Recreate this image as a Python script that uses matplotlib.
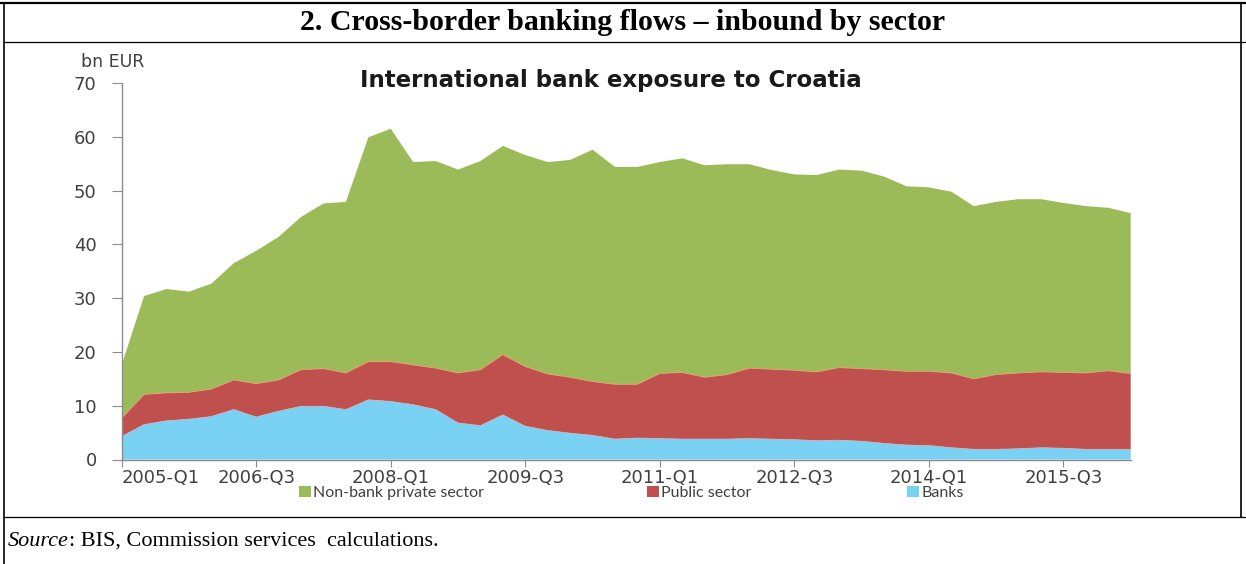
import matplotlib
matplotlib.use('Agg')
import matplotlib.pyplot as plt
import numpy as np
from matplotlib.lines import Line2D

# quarters 2005-Q1 .. 2016-Q2
quarters = [f"{y}-Q{q}" for y in range(2005, 2017) for q in range(1, 5)][:46]

# bn EUR
banks = [4.3, 6.5, 7.2, 7.5, 8.0, 9.3, 7.9, 9.0, 9.9, 9.9, 9.3, 11.1, 10.8, 10.2, 9.3, 6.8,
         6.3, 8.3, 6.2, 5.4, 4.9, 4.5, 3.8, 4.0, 3.9, 3.8, 3.8, 3.8, 3.9, 3.8, 3.7, 3.5,
         3.6, 3.4, 3.0, 2.7, 2.6, 2.2, 1.9, 1.9, 2.0, 2.2, 2.1, 1.9, 1.9, 1.9]
public = [3.4, 5.6, 5.2, 5.0, 5.1, 5.5, 6.2, 5.8, 6.8, 7.0, 6.8, 7.1, 7.4, 7.4, 7.7, 9.3,
          10.4, 11.2, 11.1, 10.5, 10.4, 10.0, 10.2, 10.0, 12.1, 12.4, 11.5, 12.0, 13.1, 13.0, 12.9, 12.8,
          13.5, 13.5, 13.7, 13.7, 13.8, 13.9, 13.1, 13.9, 14.1, 14.1, 14.1, 14.2, 14.6, 14.1]
nonbank = [9.9, 18.3, 19.3, 18.7, 19.6, 21.7, 24.7, 26.6, 28.4, 30.7, 31.8, 41.7, 43.3, 37.7, 38.5, 37.8,
           38.8, 38.8, 39.3, 39.4, 40.4, 43.1, 40.4, 40.4, 39.3, 39.8, 39.4, 39.1, 37.9, 37.0, 36.4, 36.6,
           36.8, 36.8, 35.9, 34.4, 34.2, 33.7, 32.1, 32.1, 32.3, 32.1, 31.5, 31.0, 30.3, 29.8]

GREEN = '#9BBB59'
RED = '#C0504D'
BLUE = '#79D1F3'
TXT = '#404040'
AX = '#8C8C8C'
CHART_FONT = 'DejaVu Sans'

W, H = 1246, 564
fig = plt.figure(figsize=(W / 100, H / 100), dpi=100)

def fx(px):
    return px / W

def fy(py):
    return 1 - py / H

# frame of the document box
for (x0, y0, x1, y1, lw) in [(0, 3, W, 3, 1.6), (4, 3, 4, H, 1.2), (1241, 3, 1241, 517, 1.2),
                             (4, 42, W, 42, 0.9), (4, 517, W, 517, 0.9)]:
    fig.add_artist(Line2D([fx(x0), fx(x1)], [fy(y0), fy(y1)], color='black', lw=lw))

fig.text(fx(623), fy(23), "2. Cross-border banking flows \u2013 inbound by sector",
         ha='center', va='center', fontsize=21.5, fontweight='bold', family='Liberation Serif')

ax = fig.add_axes([fx(121.7), fy(459.5), fx(1130.7) - fx(121.7), fy(83) - fy(459.5)])
x = np.arange(len(quarters))
polys = ax.stackplot(x, banks, public, nonbank, colors=[BLUE, RED, GREEN],
                     labels=['Banks', 'Public sector', 'Non-bank private sector'], lw=0)
cum_red = np.array(banks) + np.array(public)
ax.plot(x, cum_red, color='#E0A070', lw=0.7)
ax.plot(x, banks, color='#C9B7C4', lw=0.5)

ax.set_xlim(0, len(quarters) - 1)
ax.set_ylim(0, 70)
ax.set_yticks(range(0, 71, 10))
ticks = list(range(0, len(quarters), 6))
ax.set_xticks(ticks)
ax.set_xticklabels([quarters[i] for i in ticks])
ax.get_xticklabels()[0].set_horizontalalignment('left')
for s in ['top', 'right']:
    ax.spines[s].set_visible(False)
for s in ['left', 'bottom']:
    ax.spines[s].set_color(AX)
    ax.spines[s].set_linewidth(1.0)
ax.tick_params(axis='y', length=7, color=AX, pad=11, labelsize=13, labelcolor=TXT)
ax.tick_params(axis='x', length=5, color=AX, pad=1.5, labelsize=13, labelcolor=TXT)
for lab in ax.get_xticklabels() + ax.get_yticklabels():
    lab.set_family(CHART_FONT)

fig.text(fx(81), fy(62), "bn EUR", ha='left', va='center', fontsize=12.5, color=TXT, family=CHART_FONT)
fig.text(fx(611), fy(80), "International bank exposure to Croatia", ha='center', va='center',
         fontsize=16.5, fontweight='bold', family='DejaVu Sans', color='#1a1a1a')

# legend: one entry per sector, placed as in the reference
handles = {p.get_label(): p for p in polys}
for name, xpos in [('Non-bank private sector', 299), ('Public sector', 647), ('Banks', 907)]:
    lg = fig.legend([handles[name]], [name], loc='center left', bbox_to_anchor=(fx(xpos), fy(493)),
                    frameon=False, handlelength=0.75, handleheight=0.75, handletextpad=0.15,
                    borderpad=0, borderaxespad=0,
                    prop={'family': 'Lato', 'size': 11.5})
    for t in lg.get_texts():
        t.set_color(TXT)

# source line
fig.canvas.draw()
r = fig.canvas.get_renderer()
src = fig.text(fx(8), fy(541), "Source", ha='left', va='center', fontsize=16, style='italic',
               family='Liberation Serif')
bb = src.get_window_extent(renderer=r)
fig.text(bb.x1 / W, fy(541), ": BIS, Commission services  calculations.", ha='left', va='center',
         fontsize=16, family='Liberation Serif')

fig.savefig('out.png', dpi=100)
